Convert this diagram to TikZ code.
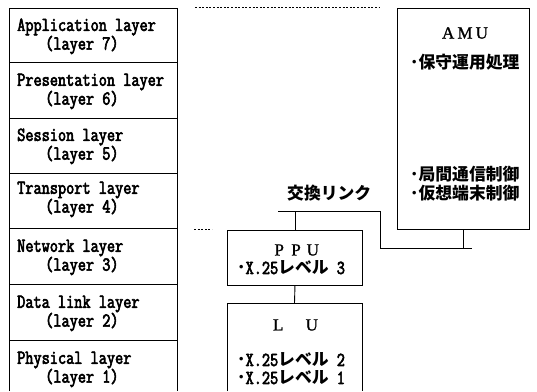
\documentclass[tikz,border=0pt]{standalone}
\usepackage{fontspec}
\newfontfamily\latf{Latin Modern Mono}[FakeStretch=0.8, FakeBold=3]
\newfontfamily\cjk{Noto Sans CJK JP}
\newfontfamily\serf{Liberation Serif}[FakeBold=1.2]
\newcommand\latx[1]{{\latf\fontsize{19.8}{20}\selectfont #1}}
\newcommand\fwc[1]{\makebox[16.8pt]{#1}}
\tikzset{
  lbox/.style={line width=0.9pt},
  ltxt/.style={anchor=west, inner sep=0pt, font=\latf\fontsize{19.8}{20}\selectfont},
  jtxt/.style={anchor=west, inner sep=0pt, font=\cjk\bfseries\fontsize{16.8}{17}\selectfont},
  stxt/.style={inner sep=0pt, font=\serf\fontsize{17}{18}\selectfont},
  dotline/.style={line width=0.8pt, dash pattern=on 2pt off 1.6pt},
}
\begin{document}
\begin{tikzpicture}[x=1pt,y=-1pt]
\useasboundingbox (0,0) rectangle (537,391);
% left layer column
\draw[lbox] (9,391) -- (9,8) -- (177,8) -- (177,391);
\foreach \yy in {62,118,173,228,284,340} \draw[lbox] (9,\yy) -- (177,\yy);
\node[ltxt] (a1) at (17,27) {Application layer};
\node[ltxt] (a2) at (45,45) {(layer 7)};
\node[ltxt] (p1) at (17,82) {Presentation layer};
\node[ltxt] (p2) at (45,100) {(layer 6)};
\node[ltxt] (s1) at (17,137) {Session layer};
\node[ltxt] (s2) at (45,155) {(layer 5)};
\node[ltxt] (t1) at (17,190) {Transport layer};
\node[ltxt] (t2) at (45,208) {(layer 4)};
\node[ltxt] (n1) at (17,248) {Network layer};
\node[ltxt] (n2) at (45,266) {(layer 3)};
\node[ltxt] (d1) at (17,304) {Data link layer};
\node[ltxt] (d2) at (45,322) {(layer 2)};
\node[ltxt] (h1) at (17,360) {Physical layer};
\node[ltxt] (h2) at (45,378) {(layer 1)};
% dotted guides
\coordinate (g1) at (195,7.5);
\coordinate (g2) at (380,7.5);
\coordinate (g3) at (194,229);
\coordinate (g4) at (212,229);
\draw[dotline] (g1) -- (g2);
\draw[dotline] (g3) -- (g4);
% AMU
\node[draw, lbox, anchor=north west, minimum width=132pt, minimum height=221pt, inner sep=0pt] (amu) at (397,8) {};
\node[stxt] (amut) at (465,33) {\fwc{A}\fwc{M}\fwc{U}};
\node[jtxt] (am1) at (410,62) {･保守運用処理};
\node[jtxt] (am2) at (410,174) {･局間通信制御};
\node[jtxt] (am3) at (410,193) {･仮想端末制御};
% PPU
\node[draw, lbox, anchor=north west, minimum width=135pt, minimum height=55pt, inner sep=0pt] (ppu) at (227,230) {};
\node[stxt] (ppt) at (296,250) {\fwc{P}\fwc{P}\fwc{U}};
\node[jtxt] (pp1) at (237,268) {･\latx{X.25}レベル\latx{ 3}};
% LU (open at bottom)
\coordinate (lutop) at (294.5,303);
\draw[lbox] (227,391) -- (227,303) -- (362,303) -- (362,391);
\node[stxt] (lut) at (295,325) {\fwc{L}\fwc{}\fwc{U}};
\node[jtxt] (lu1) at (237,360) {･\latx{X.25}レベル\latx{ 2}};
\node[jtxt] (lu2) at (237,378) {･\latx{X.25}レベル\latx{ 1}};
% exchange link
\node[jtxt] (xl) at (287,193) {交換リンク};
\coordinate (l1) at (278,211);
\coordinate (l2) at (380,211);
\coordinate (l3) at (380,248);
\coordinate (l4) at (472,248);
\draw[lbox] (l1) -- (l2) -- (l3) -- (l4);
\draw[lbox] (amu.south) -- (amu.south |- l4);
\draw[lbox] (ppu.north) -- (ppu.north |- l1);
\draw[lbox] (ppu.south) -- (lutop);
\end{tikzpicture}
\end{document}
